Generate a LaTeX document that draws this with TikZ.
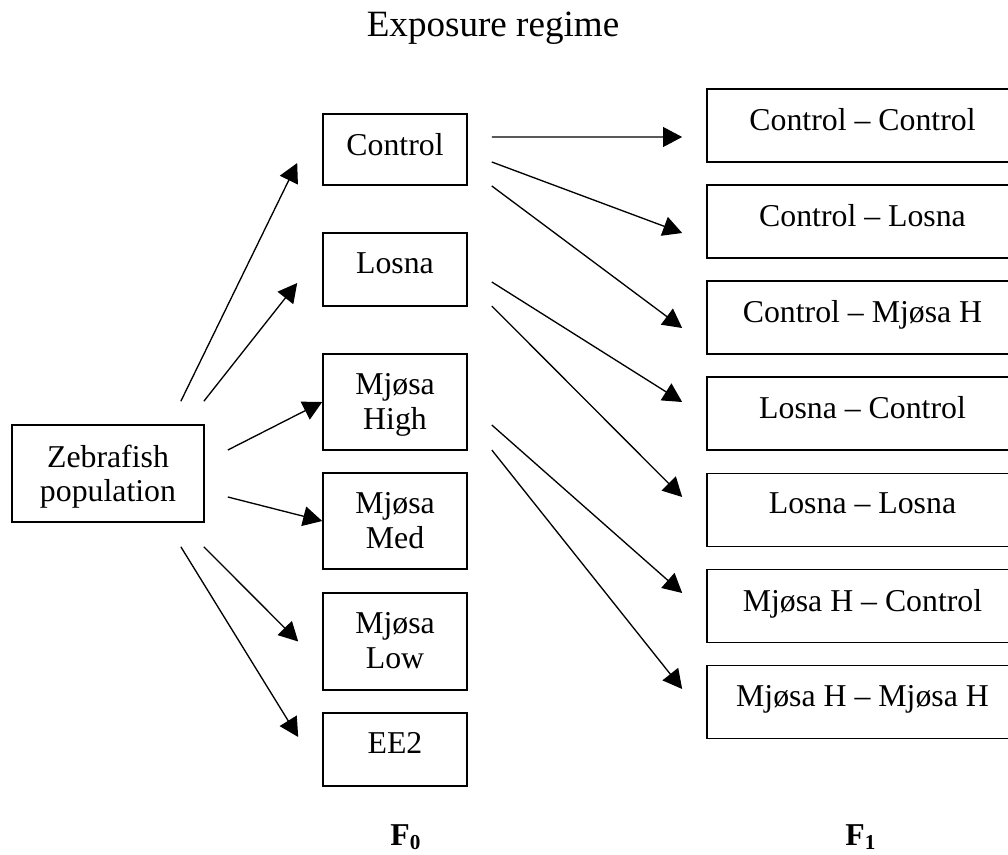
\documentclass[tikz,border=0pt]{standalone}
\usepackage{fontspec}
\setmainfont{Liberation Serif}
\usetikzlibrary{arrows.meta}
\tikzset{
  box/.style={draw, line width=0.6pt, inner sep=0pt,
    label={[anchor=north, yshift=-7.5pt, align=center, inner sep=0pt]north:#1}},
  gen0/.style={box=#1, minimum width=54.35pt, minimum height=27.55pt},
  gen1/.style={box=#1, minimum width=117.4pt, minimum height=27.55pt},
  tall/.style={minimum height=36.23pt},
  arr/.style={-{Triangle[length=7.2pt, width=7.5pt]}, line width=0.5pt}
}
\begin{document}
\begin{tikzpicture}[x=0.3774pt, y=-0.3774pt, font=\fontsize{12}{13.2}\selectfont]
    \useasboundingbox (0,0) rectangle (1008,854);
    \clip (0,0) rectangle (1008,854);
    \node[font=\fontsize{14}{16}\selectfont, anchor=base] (title) at (493,37) {Exposure regime};
    % parents
    \node[box={Zebrafish\\population}, minimum width=72.5pt, minimum height=36.6pt] (zf) at (108,473.5) {};
    % F0 groups
    \node[gen0=Control, minimum height=26.8pt] (ctrl) at (395,149.5) {};
    \node[gen0=Losna] (losna) at (395,269.5) {};
    \node[gen0={Mjøsa\\High}, tall] (high) at (395,402) {};
    \node[gen0={Mjøsa\\Med}, tall] (med) at (395,521) {};
    \node[gen0={Mjøsa\\Low}, minimum height=36.6pt] (low) at (395,641.5) {};
    \node[gen0=EE2] (ee2) at (395,749.5) {};
    % F1 groups
    \node[gen1={Control – Control}] (cc) at (862.5,125.5) {};
    \node[gen1={Control – Losna}] (cl) at (862.5,221.5) {};
    \node[gen1={Control – Mjøsa H}] (cm) at (862.5,317.5) {};
    \node[gen1={Losna – Control}] (lc) at (862.5,413.5) {};
    \node[gen1={Losna – Losna}] (ll) at (862.5,510) {};
    \node[gen1={Mjøsa H – Control}] (mc) at (862.5,606) {};
    \node[gen1={Mjøsa H – Mjøsa H}] (mm) at (862.5,702) {};
    \node[font=\fontsize{12}{13.2}\selectfont\bfseries, anchor=base] (f0) at (406,845) {F\textsubscript{0}};
    \node[font=\fontsize{12}{13.2}\selectfont\bfseries, anchor=base] (f1) at (861,845) {F\textsubscript{1}};
    % exposure of the parents
    \draw[arr] ([shift={(-24,-23)}]zf.north east) -- ([shift={(-25,13.5)}]ctrl.west);
    \draw[arr] ([shift={(-1,-23)}]zf.north east) -- ([shift={(-25,13.5)}]losna.west);
    \draw[arr] ([shift={(23,-23.5)}]zf.east) -- (high.west);
    \draw[arr] ([shift={(23,23.5)}]zf.east) -- (med.west);
    \draw[arr] ([shift={(-1,24)}]zf.south east) -- ([shift={(-24,0)}]low.west);
    \draw[arr] ([shift={(-24,24)}]zf.south east) -- ([shift={(-24,-12.5)}]ee2.west);
    % exposure of the offspring
    \draw[arr] ([shift={(24,-12.5)}]ctrl.east) -- ([shift={(-24,11.5)}]cc.west);
    \draw[arr] ([shift={(24,12.5)}]ctrl.east) -- ([shift={(-24,11.5)}]cl.west);
    \draw[arr] ([shift={(24,36.5)}]ctrl.east) -- ([shift={(-24,10.5)}]cm.west);
    \draw[arr] ([shift={(24,12.5)}]losna.east) -- ([shift={(-24,-11.5)}]lc.west);
    \draw[arr] ([shift={(24,36.5)}]losna.east) -- ([shift={(-24,-13)}]ll.west);
    \draw[arr] ([shift={(24,23)}]high.east) -- ([shift={(-24,-13)}]mc.west);
    \draw[arr] ([shift={(24,48)}]high.east) -- ([shift={(-24,-13)}]mm.west);
\end{tikzpicture}
\end{document}
